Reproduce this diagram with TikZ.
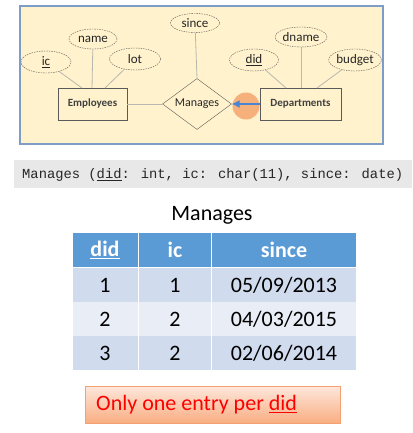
\documentclass[tikz,border=0pt]{standalone}
\usepackage{fontspec}
\setmainfont{Carlito}
\newfontfamily\codefont{Liberation Mono}
\usetikzlibrary{shapes.geometric,arrows.meta,shadows}
\definecolor{erfill}{HTML}{FFF2CC}
\definecolor{erborder}{HTML}{7E9CC8}
\definecolor{ergray}{HTML}{5A5A5A}
\definecolor{erline}{HTML}{B8B8B0}
\definecolor{hdrblue}{HTML}{5B9BD5}
\definecolor{rowdark}{HTML}{D0DBEE}
\definecolor{rowlight}{HTML}{E9EDF6}
\definecolor{codebg}{HTML}{E8E8E8}
\definecolor{ornborder}{HTML}{F4A070}
\definecolor{orntop}{HTML}{FDE7DC}
\definecolor{ornbot}{HTML}{F9AE82}
\definecolor{circ}{HTML}{F5B07C}
\definecolor{arrblue}{HTML}{4A86D0}
\begin{document}
\begin{tikzpicture}[x=1pt,y=-1pt,
  attr/.style={ellipse,draw=ergray,dashed,dash pattern=on 1.5pt off 1pt,thin,inner sep=0pt,
    font=\fontsize{13}{15}\selectfont,text=black!85},
  entity/.style={draw=ergray,thin,inner sep=0pt,font=\fontsize{11}{13}\selectfont\bfseries,text=black!75},
  conn/.style={draw=erline,line width=0.8pt},
  cell/.style={inner sep=0pt,minimum height=34pt,font=\fontsize{22}{24}\selectfont},
  hdr/.style={cell,fill=hdrblue,text=white,font=\fontsize{22}{24}\selectfont\bfseries},
]
\useasboundingbox (0,0) rectangle (412,433);
% ER panel
\node[draw=erborder,line width=1.2pt,fill=erfill,minimum width=363pt,minimum height=138pt,inner sep=0pt] (panel) at (201.5,75) {};
% entities
\node[entity,minimum width=69pt,minimum height=32pt] (emp) at (92.5,104) {Employees};
\node[entity,minimum width=81pt,minimum height=32pt] (dep) at (300.5,104) {Departments};
\node[diamond,draw=ergray,thin,aspect=1.35,minimum width=69pt,minimum height=51pt,inner sep=0pt,
  font=\fontsize{12}{14}\selectfont,text=black!85] (man) at (197,104) {Manages};
% attributes
\node[attr,minimum width=50pt,minimum height=22pt] (ic) at (46,62) {\underline{ic}};
\node[attr,minimum width=48pt,minimum height=20pt] (name) at (93,39) {name};
\node[attr,minimum width=51pt,minimum height=22pt] (lot) at (135,59) {lot};
\node[attr,minimum width=49pt,minimum height=19pt] (since) at (195,23) {since};
\node[attr,minimum width=49pt,minimum height=22pt] (did) at (254,60) {\underline{did}};
\node[attr,minimum width=48pt,minimum height=20pt] (dname) at (301,37) {dname};
\node[attr,minimum width=49pt,minimum height=22pt] (budget) at (355,60) {budget};
% connectors
\coordinate (e1) at (82,88);
\coordinate (e2) at (92,88);
\coordinate (e3) at (105,88);
\coordinate (d1) at (286,88);
\coordinate (d2) at (301,88);
\coordinate (d3) at (317,88);
\draw[conn] (ic) -- (e1);
\draw[conn] (name) -- (e2);
\draw[conn] (lot) -- (e3);
\draw[conn] (did) -- (d1);
\draw[conn] (dname) -- (d2);
\draw[conn] (budget) -- (d3);
\draw[conn] (since) -- (man.north);
\draw[conn] (emp.east) -- (man.west);
% orange circle and arrow
\node[circle,fill=circ,minimum size=27pt,inner sep=0pt] (hl) at (246,106) {};
\draw[arrblue,line width=1.3pt,-{Latex[length=8pt,width=8pt]}] (dep.west) -- (man.east);
% code line
\node[fill=codebg,minimum width=398pt,minimum height=28pt,inner sep=0pt] (codebar) at (213,174) {};
\node[anchor=west,inner sep=0pt,font=\codefont\fontsize{13.8}{15}\selectfont,text=black!85] (code) at (22,175)
  {Manages (\underline{did}: int, ic: char(11), since: date)};
% title
\node[font=\fontsize{22}{24}\selectfont,inner sep=0pt] (title) at (212,215) {Manages};
% table
\node[hdr,minimum width=65pt] (h1) at (105,249.5) {\underline{did}};
\node[hdr,minimum width=72pt] (h2) at (175,249.5) {ic};
\node[hdr,minimum width=144pt] (h3) at (284,249.5) {since};
\node[cell,fill=rowdark,minimum width=65pt] (r11) at (105,285) {1};
\node[cell,fill=rowdark,minimum width=72pt] (r12) at (175,285) {1};
\node[cell,fill=rowdark,minimum width=144pt] (r13) at (284,285) {05/09/2013};
\node[cell,fill=rowlight,minimum width=65pt] (r21) at (105,319) {2};
\node[cell,fill=rowlight,minimum width=72pt] (r22) at (175,319) {2};
\node[cell,fill=rowlight,minimum width=144pt] (r23) at (284,319) {04/03/2015};
\node[cell,fill=rowdark,minimum width=65pt] (r31) at (105,353) {3};
\node[cell,fill=rowdark,minimum width=72pt] (r32) at (175,353) {2};
\node[cell,fill=rowdark,minimum width=144pt] (r33) at (284,353) {02/06/2014};
% note box
\node[draw=ornborder,top color=orntop,bottom color=ornbot,minimum width=255pt,minimum height=37pt,
  inner sep=0pt,drop shadow={opacity=0.25,shadow xshift=1pt,shadow yshift=-1pt}] (note) at (212.5,404.5) {};
\node[anchor=west,inner sep=0pt,text=red,font=\fontsize{22}{24}\selectfont] (notetext) at (96,405)
  {Only one entry per \underline{did}};
\end{tikzpicture}
\end{document}
